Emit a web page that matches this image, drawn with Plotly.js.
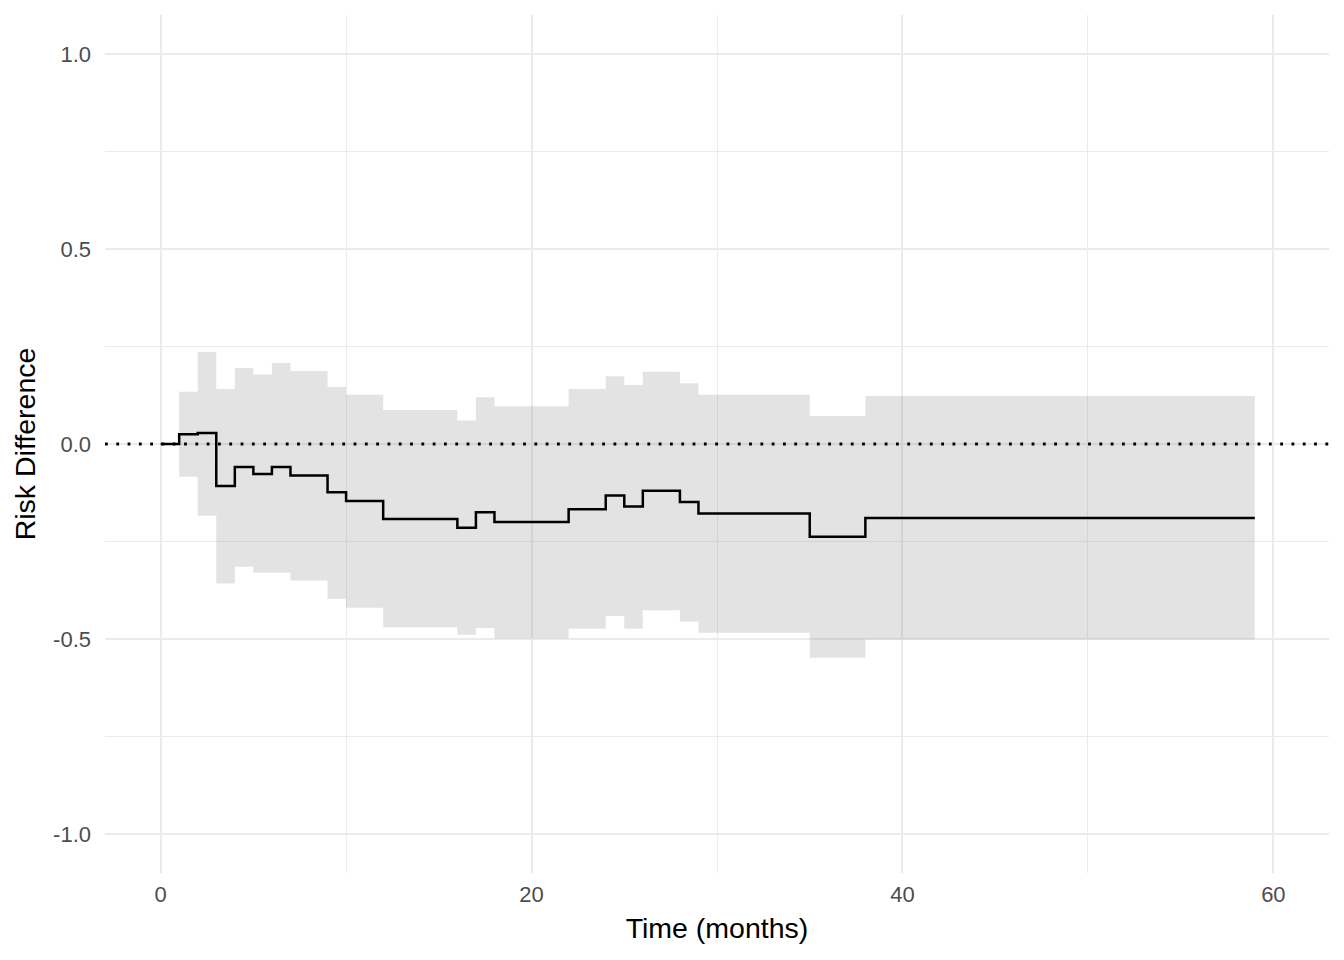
<!DOCTYPE html>
<html>
<head>
<meta charset="utf-8">
<script src="https://cdn.plot.ly/plotly-3.0.1.min.js"></script>
<style>
  html, body { margin: 0; padding: 0; background: #fff; }
  #chart { width: 1344px; height: 960px; }
</style>
</head>
<body>
<div id="chart"></div>
<script>
// step times (months) and estimates
const times = [0, 1, 2, 3, 4, 5, 6, 7, 9, 10, 12, 16, 17, 18, 22, 24, 25, 26, 28, 29, 35, 38, 59];
const riskDiff = [0, 0.025, 0.028, -0.108, -0.059, -0.077, -0.059, -0.081, -0.124, -0.146, -0.192, -0.215, -0.175, -0.200, -0.167, -0.132, -0.160, -0.120, -0.149, -0.178, -0.238, -0.190, -0.190];
const ciUpper = [0, 0.134, 0.236, 0.141, 0.195, 0.178, 0.208, 0.187, 0.146, 0.126, 0.087, 0.060, 0.120, 0.097, 0.141, 0.174, 0.151, 0.185, 0.156, 0.126, 0.072, 0.123, 0.123];
const ciLower = [0, -0.084, -0.184, -0.358, -0.315, -0.330, -0.330, -0.350, -0.397, -0.420, -0.470, -0.489, -0.472, -0.499, -0.474, -0.441, -0.474, -0.426, -0.456, -0.484, -0.548, -0.501, -0.501];

const xTicks = [0, 20, 40, 60];
const yTicks = [-1.0, -0.5, 0.0, 0.5, 1.0];

const ribbonFill = 'rgba(127,127,127,0.22)';

const lowerTrace = {
    x: times,
    y: ciLower,
    type: 'scatter',
    mode: 'lines',
    line: { shape: 'hv', width: 0, color: 'rgba(0,0,0,0)' },
    hoverinfo: 'skip',
    showlegend: false
};

const upperTrace = {
    x: times,
    y: ciUpper,
    type: 'scatter',
    mode: 'lines',
    fill: 'tonexty',
    fillcolor: ribbonFill,
    line: { shape: 'hv', width: 0, color: 'rgba(0,0,0,0)' },
    hoverinfo: 'skip',
    showlegend: false
};

const stepTrace = {
    x: times,
    y: riskDiff,
    type: 'scatter',
    mode: 'lines',
    line: { shape: 'hv', width: 2.5, color: '#000000' },
    showlegend: false
};

const gridMajor = '#EBEBEB';

const layout = {
    width: 1344,
    height: 960,
    paper_bgcolor: '#ffffff',
    plot_bgcolor: '#ffffff',
    margin: { l: 105, r: 15, t: 15, b: 87 },
    font: { family: 'Liberation Sans, Arial, sans-serif', color: '#000000' },
    showlegend: false,
    xaxis: {
        range: [-3, 63],
        tickvals: xTicks,
        ticktext: xTicks.map(String),
        showgrid: true,
        gridcolor: gridMajor,
        gridwidth: 2,
        minor: { dtick: 10, tick0: 0, showgrid: true, gridcolor: gridMajor, gridwidth: 1 },
        zeroline: false,
        showline: false,
        ticks: '',
        ticklabelstandoff: 6,
        tickfont: { size: 22, color: '#4D4D4D' },
        title: { text: 'Time (months)', font: { size: 28.5, color: '#000000' }, standoff: 12 }
    },
    yaxis: {
        range: [-1.1, 1.1],
        tickvals: yTicks,
        ticktext: yTicks.map(v => v.toFixed(1)),
        showgrid: true,
        gridcolor: gridMajor,
        gridwidth: 2,
        minor: { dtick: 0.25, tick0: 0, showgrid: true, gridcolor: gridMajor, gridwidth: 1 },
        zeroline: false,
        showline: false,
        ticks: '',
        ticklabelstandoff: 13,
        tickfont: { size: 22, color: '#4D4D4D' },
        title: { text: 'Risk Difference', font: { size: 28.5, color: '#000000' }, standoff: 9 }
    },
    shapes: [{
        type: 'line',
        xref: 'paper',
        yref: 'y',
        x0: 0,
        x1: 1,
        y0: 0,
        y1: 0,
        layer: 'above',
        line: { color: '#000000', width: 2.8, dash: '2.8px,8.5px' }
    }]
};

const config = { displayModeBar: false, staticPlot: true };

Plotly.newPlot('chart', [lowerTrace, upperTrace, stepTrace], layout, config);
</script>
</body>
</html>
